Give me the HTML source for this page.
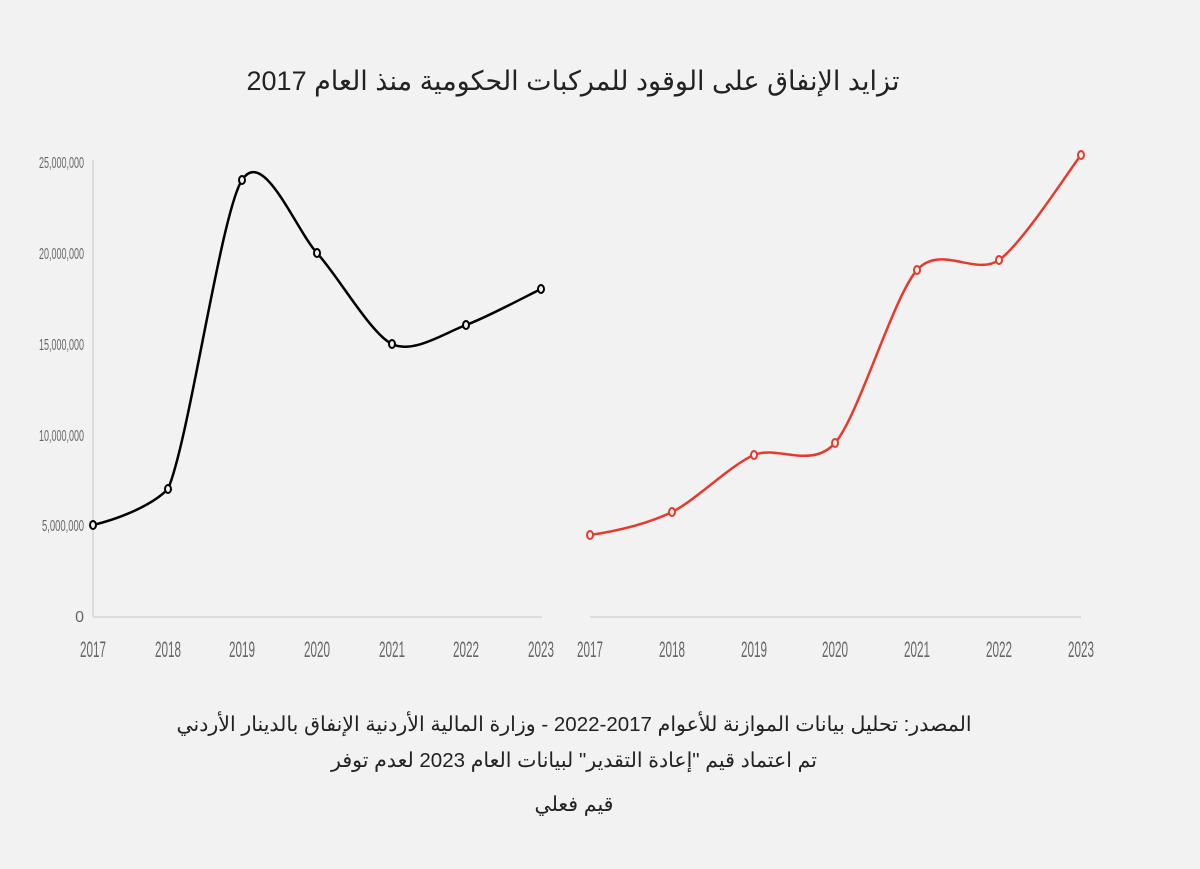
<!DOCTYPE html>
<html><head><meta charset="utf-8"><style>
body{margin:0;width:1200px;height:864px;background:#f2f2f2;overflow:hidden}
.t{font-family:"Liberation Sans","Noto Sans CJK SC",sans-serif;fill:#222}
.a{font-family:"Liberation Sans Narrow","Liberation Sans",sans-serif;fill:#666}
</style></head><body>
<svg id="s" width="1200" height="864" xmlns="http://www.w3.org/2000/svg">
<text class="t" x="573" y="90" font-size="27" text-anchor="middle" direction="rtl">تزايد الإنفاق على الوقود للمركبات الحكومية منذ العام 2017</text>
<g stroke="#dcdcdc" stroke-width="2">
<line x1="93" y1="160" x2="93" y2="617"/>
<line x1="93" y1="617" x2="542" y2="617"/>
<line x1="590" y1="617" x2="1081" y2="617"/>
</g>
<g class="a" font-size="16" text-anchor="end">
<text x="84" y="168" textLength="45" lengthAdjust="spacingAndGlyphs">25,000,000</text>
<text x="84" y="259" textLength="45" lengthAdjust="spacingAndGlyphs">20,000,000</text>
<text x="84" y="350" textLength="45" lengthAdjust="spacingAndGlyphs">15,000,000</text>
<text x="84" y="441" textLength="45" lengthAdjust="spacingAndGlyphs">10,000,000</text>
<text x="84" y="531" textLength="42" lengthAdjust="spacingAndGlyphs">5,000,000</text>
<text x="84" y="622">0</text>
</g>
<g class="a" font-size="22" text-anchor="middle" id="xl"></g>
<path id="p1" fill="none" stroke="#000" stroke-width="2.5"/>
<path id="p2" fill="none" stroke="#e8392b" stroke-width="2.5"/>
<g id="m"></g>
<g class="t" font-size="20.5" text-anchor="middle" direction="rtl">
<text x="574" y="731">المصدر: تحليل بيانات الموازنة للأعوام 2017-2022 - وزارة المالية الأردنية الإنفاق بالدينار الأردني</text>
<text x="574" y="767">تم اعتماد قيم "إعادة التقدير" لبيانات العام 2023 لعدم توفر</text>
<text x="574" y="811">قيم فعلي</text>
</g>
</svg>
<script>
var A=[[93,525],[168,489],[242,180],[317,253],[392,344],[466,325],[541,289]];
var B=[[590,535],[672,512],[754,455],[835,443],[917,270],[999,260],[1081,155]];
function cr(P,f){var d="M"+P[0][0]+","+P[0][1];for(var i=0;i<P.length-1;i++){var p0=P[i-1]||P[i],p1=P[i],p2=P[i+1],p3=P[i+2]||p2;var k=7;
var t1=[(p2[0]-p0[0])/k,(p2[1]-p0[1])/k],t2=[(p3[0]-p1[0])/k,(p3[1]-p1[1])/k];
if(i==0){t1=[(p2[0]-p1[0])/3,(p2[1]-p1[1])/6];}
if(f&&i==0){t2=[t2[0]*0.8,t2[1]*0.35];}
d+=" C"+(p1[0]+t1[0])+","+(p1[1]+t1[1])+" "+(p2[0]-t2[0])+","+(p2[1]-t2[1])+" "+p2[0]+","+p2[1];}return d;}
document.getElementById("p1").setAttribute("d",cr(A,1));
document.getElementById("p2").setAttribute("d",cr(B,0));
var ns="http://www.w3.org/2000/svg",m=document.getElementById("m"),xl=document.getElementById("xl");
function mk(P,c){P.forEach(function(p,i){var e=document.createElementNS(ns,"ellipse");e.setAttribute("cx",p[0]);e.setAttribute("cy",p[1]);e.setAttribute("rx",3);e.setAttribute("ry",4);e.setAttribute("fill","#f2f2f2");e.setAttribute("stroke",c);e.setAttribute("stroke-width",2);m.appendChild(e);var t=document.createElementNS(ns,"text");t.setAttribute("x",p[0]);t.setAttribute("y",657);t.setAttribute("textLength",26);t.setAttribute("lengthAdjust","spacingAndGlyphs");t.textContent=2017+i;xl.appendChild(t);});}
mk(A,"#000");mk(B,"#e8392b");
</script>
</body></html>
